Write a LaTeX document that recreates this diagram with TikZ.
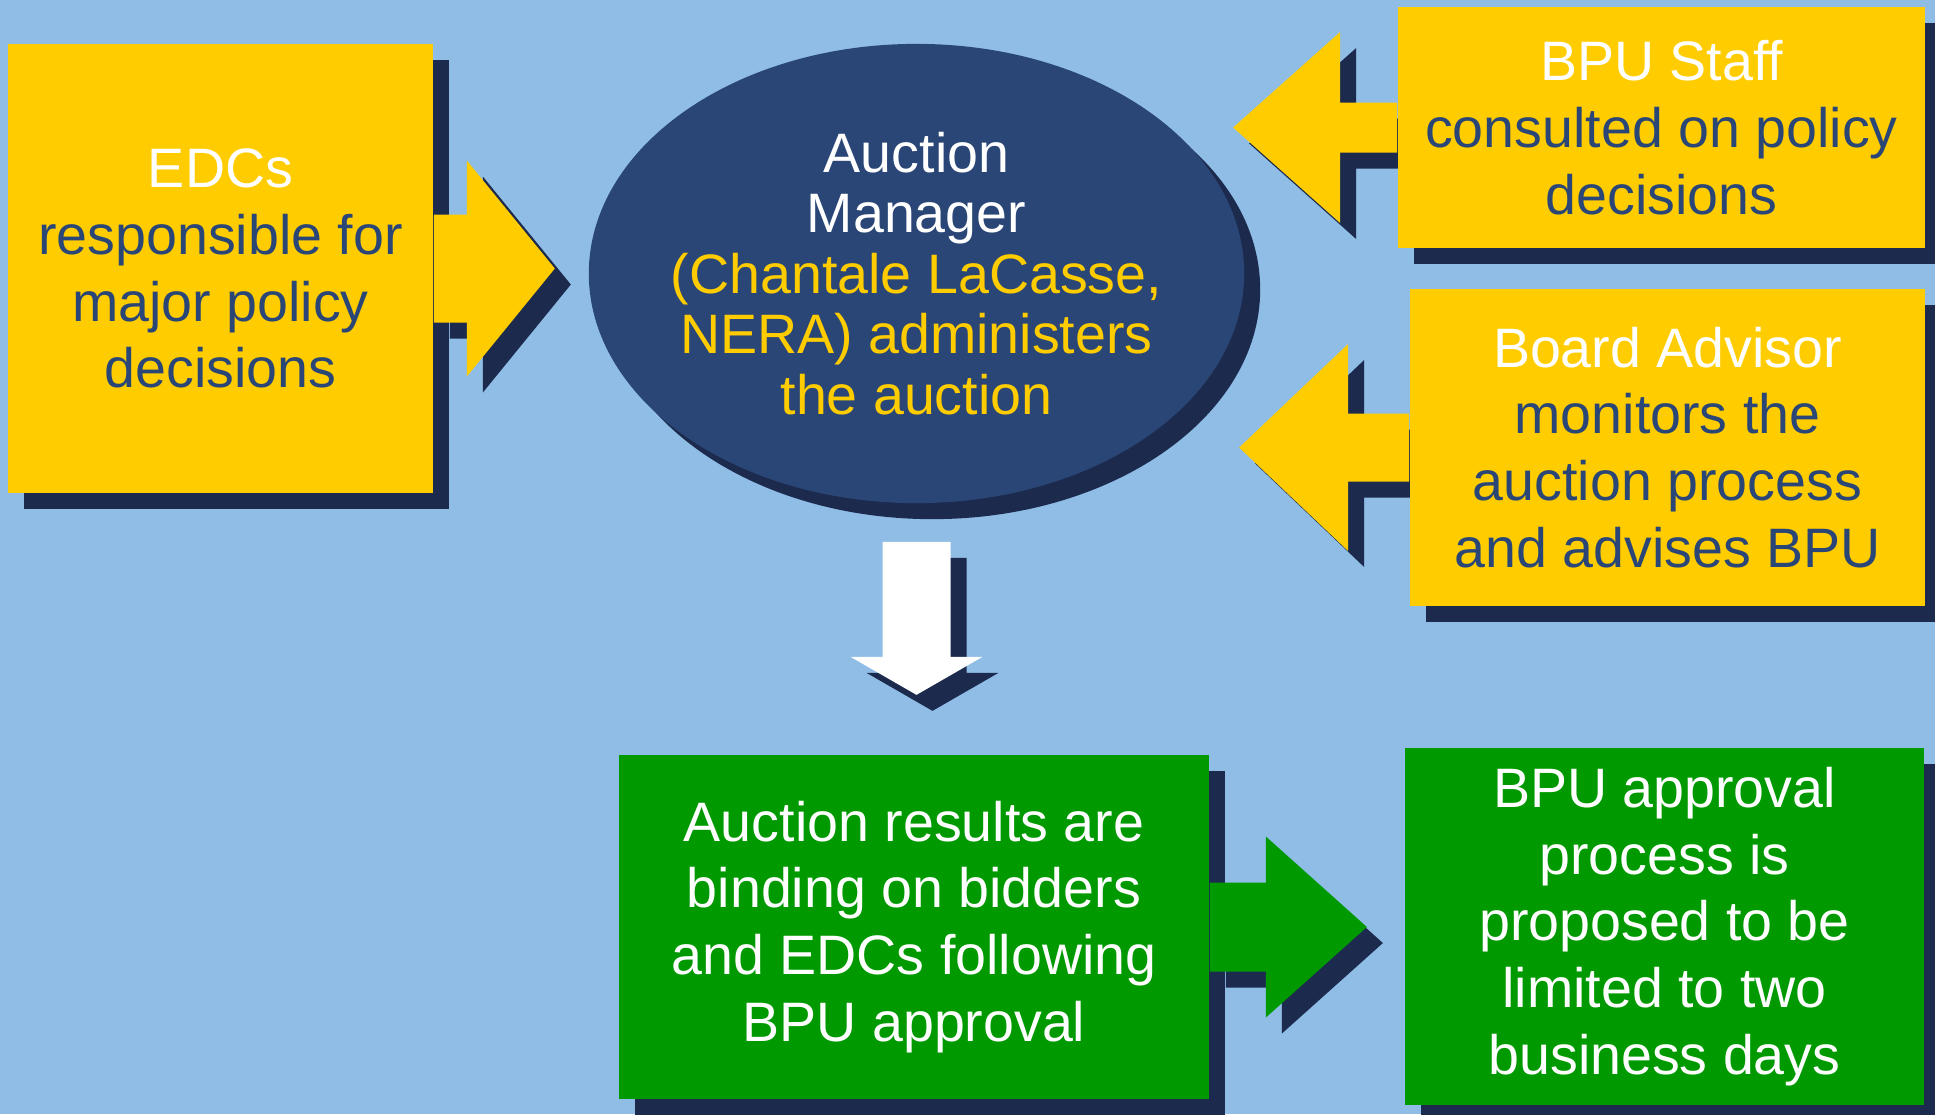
\documentclass[tikz,border=0pt]{standalone}
\usepackage{fontspec}
\setmainfont{Liberation Sans}
\usetikzlibrary{shapes.geometric,shadows,backgrounds}

\definecolor{skyback}{RGB}{143,189,230}
\definecolor{gold}{RGB}{255,204,0}
\definecolor{navy}{RGB}{42,70,118}
\definecolor{navydark}{RGB}{28,43,77}
\definecolor{leaf}{RGB}{0,153,0}

\pgfdeclarelayer{behind}
\pgfsetlayers{background,behind,main}

\tikzset{
  shadowed/.style={drop shadow={shadow xshift=0.16cm,shadow yshift=-0.16cm,fill=navydark,opacity=1}},
  infobox/.style={shadowed,inner sep=0pt,align=center,font=\fontsize{15.8}{19}\selectfont},
  yellowbox/.style={infobox,fill=gold,text=navy},
  greenbox/.style={infobox,fill=leaf,text=white}
}

\begin{document}
\begin{tikzpicture}[x=0.01cm,y=-0.01cm]
    \useasboundingbox (0,0) rectangle (1935,1114);
    \begin{pgfonlayer}{background}
        \fill[skyback] (0,0) rectangle (1935,1114);
    \end{pgfonlayer}

    % boxes
    \node[yellowbox,minimum width=4.25cm,minimum height=4.49cm] (edc) at (220.5,268.5)
        {{\color{white}EDCs}\\responsible for\\major policy\\decisions};
    \node[yellowbox,minimum width=5.27cm,minimum height=2.41cm] (staff) at (1661.5,127.5)
        {{\color{white}BPU Staff}\\consulted on policy\\decisions};
    \node[yellowbox,minimum width=5.15cm,minimum height=3.17cm] (advisor) at (1667.5,447.5)
        {{\color{white}Board Advisor}\\monitors the\\auction process\\and advises BPU};
    \node[ellipse,shadowed,fill=navy,inner sep=0pt,
          minimum width=6.55cm,minimum height=4.59cm] (mgr) at (916.5,273.5) {};
    \node[text=gold,inner sep=0pt,align=center,font=\fontsize{15.8}{17.2}\selectfont] (mgrtext) at (mgr.center)
        {{\color{white}Auction}\\{\color{white}Manager}\\(Chantale LaCasse,\\NERA) administers\\the auction};
    \node[greenbox,minimum width=5.90cm,minimum height=3.44cm] (results) at (914,927)
        {Auction results are\\binding on bidders\\and EDCs following\\BPU approval};
    \node[greenbox,minimum width=5.19cm,minimum height=3.57cm] (approval) at (1664.5,926.5)
        {BPU approval\\process is\\proposed to be\\limited to two\\business days};

    % block arrows
    \fill[gold,shadowed] (edc.east) ++(0,-54) -- ++(33,0) -- ++(0,-54) -- ++(88,108)
        -- ++(-88,108) -- ++(0,-54) -- ++(-33,0) -- cycle;
    \begin{pgfonlayer}{behind}
        \fill[gold,shadowed] (staff.west) ++(0,-25) -- ++(-57,0) -- ++(0,-70.5) -- ++(-107,95.5)
            -- ++(107,95.5) -- ++(0,-70.5) -- ++(57,0) -- cycle;
        \fill[gold,shadowed] (advisor.west) ++(0,-34) -- ++(-61,0) -- ++(0,-69.5) -- ++(-109,103.5)
            -- ++(109,103.5) -- ++(0,-69.5) -- ++(61,0) -- cycle;
    \end{pgfonlayer}
    \fill[white,shadowed] (mgr.south) ++(-34,38) -- ++(0,115) -- ++(-32,0) -- ++(66,38)
        -- ++(66,-38) -- ++(-32,0) -- ++(0,-115) -- cycle;
    \fill[leaf,shadowed] (results.east) ++(0,-44.5) -- ++(56,0) -- ++(0,-46) -- ++(101,90.5)
        -- ++(-101,90.5) -- ++(0,-46) -- ++(-56,0) -- cycle;
\end{tikzpicture}
\end{document}
